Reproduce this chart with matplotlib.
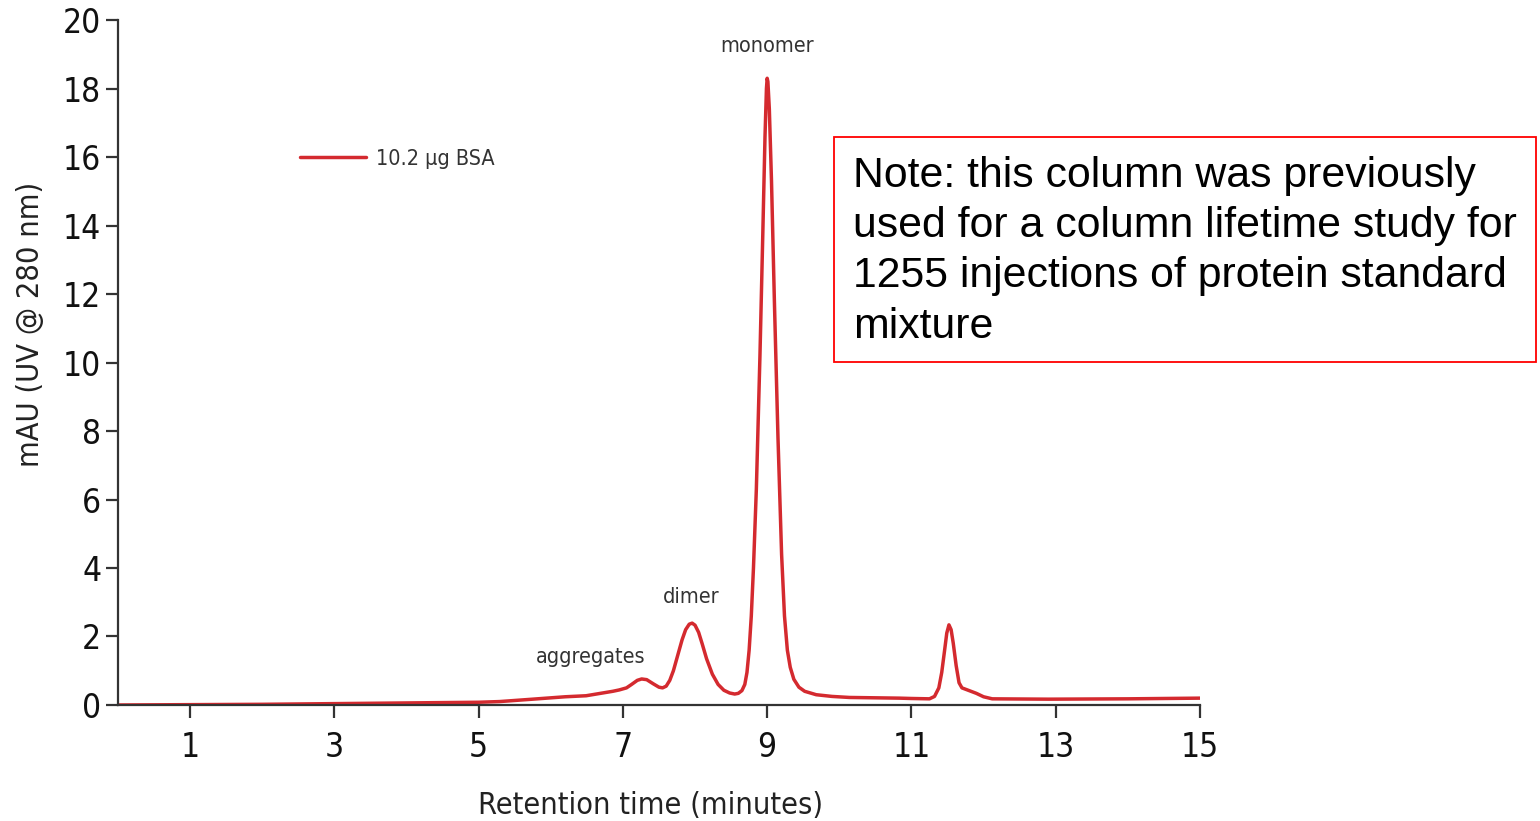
import matplotlib.pyplot as plt
from matplotlib.patches import Rectangle

# trace (minutes, mAU)
time_min = [0.0, 1.0, 2.0, 3.0, 4.0, 5.0, 5.29, 5.75, 6.2, 6.49, 6.86, 6.95,
            7.05, 7.12, 7.20, 7.26, 7.33, 7.42, 7.50, 7.55, 7.60, 7.65, 7.70,
            7.76, 7.82, 7.87, 7.92, 7.96, 8.00, 8.05, 8.10, 8.16, 8.24, 8.32,
            8.40, 8.48, 8.55, 8.60, 8.65, 8.69, 8.72, 8.75, 8.78, 8.81, 8.85,
            8.90, 8.94, 8.97, 8.99, 9.00, 9.01, 9.03, 9.06, 9.10, 9.15, 9.20,
            9.24, 9.28, 9.32, 9.37, 9.44, 9.52, 9.68, 9.90, 10.14, 10.83, 11.0,
            11.25, 11.32, 11.38, 11.42, 11.46, 11.49, 11.52, 11.55, 11.58, 11.62,
            11.66, 11.70, 11.80, 11.90, 12.00, 12.12, 12.9, 14.0, 15.0]
mau = [0.0, 0.01, 0.02, 0.04, 0.06, 0.08, 0.1, 0.17, 0.24, 0.27, 0.40, 0.44,
       0.50, 0.60, 0.72, 0.76, 0.74, 0.62, 0.52, 0.50, 0.55, 0.72, 1.0,
       1.45, 1.90, 2.20, 2.36, 2.39, 2.33, 2.12, 1.78, 1.35, 0.90, 0.60,
       0.43, 0.35, 0.32, 0.34, 0.42, 0.60, 0.95, 1.6, 2.6, 4.0, 6.3,
       10.2, 13.8, 16.6, 18.0, 18.3, 18.2, 17.4, 15.3, 11.8, 7.8, 4.4,
       2.6, 1.6, 1.1, 0.75, 0.52, 0.40, 0.30, 0.25, 0.22, 0.20, 0.19,
       0.18, 0.25, 0.50, 0.95, 1.6, 2.1, 2.34, 2.2, 1.8, 1.15,
       0.65, 0.50, 0.42, 0.34, 0.24, 0.18, 0.17, 0.18, 0.20]

peak_names = ["aggregates", "dimer", "monomer"]
peak_label_x = [6.55, 7.95, 9.0]
peak_label_y = [1.1, 2.85, 18.95]

x_ticks = [1, 3, 5, 7, 9, 11, 13, 15]
y_ticks = [0, 2, 4, 6, 8, 10, 12, 14, 16, 18, 20]

note = ("Note: this column was previously\n"
        "used for a column lifetime study for\n"
        "1255 injections of protein standard\n"
        "mixture")

fam = ['DejaVu Sans']
cond = 'condensed'
axis_col = '#333333'
red = '#d42a2f'

fig = plt.figure(figsize=(15.4, 8.21), dpi=100)
ax = fig.add_axes([0.0766, 0.1413, 0.7026, 0.8343])

ax.plot(time_min, mau, color=red, lw=2.5, label="10.2 µg BSA",
        solid_joinstyle='round', solid_capstyle='round')

ax.set_xlim(0, 15)
ax.set_ylim(0, 20)
ax.set_xticks(x_ticks)
ax.set_yticks(y_ticks)
for s in ['top', 'right']:
    ax.spines[s].set_visible(False)
for s in ['left', 'bottom']:
    ax.spines[s].set_color(axis_col)
    ax.spines[s].set_linewidth(1.6)
ax.tick_params(axis='both', direction='out', length=9, width=1.6, color=axis_col,
               labelsize=24, labelcolor='#111111')
ax.tick_params(axis='x', pad=10)
ax.tick_params(axis='y', pad=3)
for lab in ax.get_xticklabels() + ax.get_yticklabels():
    lab.set_family(fam)
    lab.set_stretch(cond)

ax.set_xlabel("Retention time (minutes)", family=fam, stretch=cond, fontsize=22,
              color='#222222')
ax.set_ylabel("mAU (UV @ 280 nm)", family=fam, stretch=cond, fontsize=22,
              color='#222222')
ax.xaxis.set_label_coords(0.492, -0.125)
ax.yaxis.set_label_coords(-0.067, 0.555)

for name, lx, ly in zip(peak_names, peak_label_x, peak_label_y):
    ax.text(lx, ly, name, family=fam, stretch=cond, fontsize=15.5, color='#333333',
            ha='center', va='bottom')

leg = ax.legend(loc='upper left', bbox_to_anchor=(0.15, 0.84), frameon=False,
                handlelength=3.1, handletextpad=0.45,
                prop={'family': fam, 'stretch': cond, 'size': 15.5})
for t in leg.get_texts():
    t.set_color('#333333')

# note box, sticking out past the axes on the right
fig.patches.append(Rectangle((834 / 1540, 1 - 362 / 821), 702 / 1540, 225 / 821,
                             transform=fig.transFigure, fill=False, edgecolor='#ff0000', lw=1.3))
fig.text(853 / 1540, 1 - 156 / 821, note, family='Liberation Sans', fontsize=30.8,
         va='top', ha='left', linespacing=1.33, color='black')

fig.savefig("out.png", dpi=100)
